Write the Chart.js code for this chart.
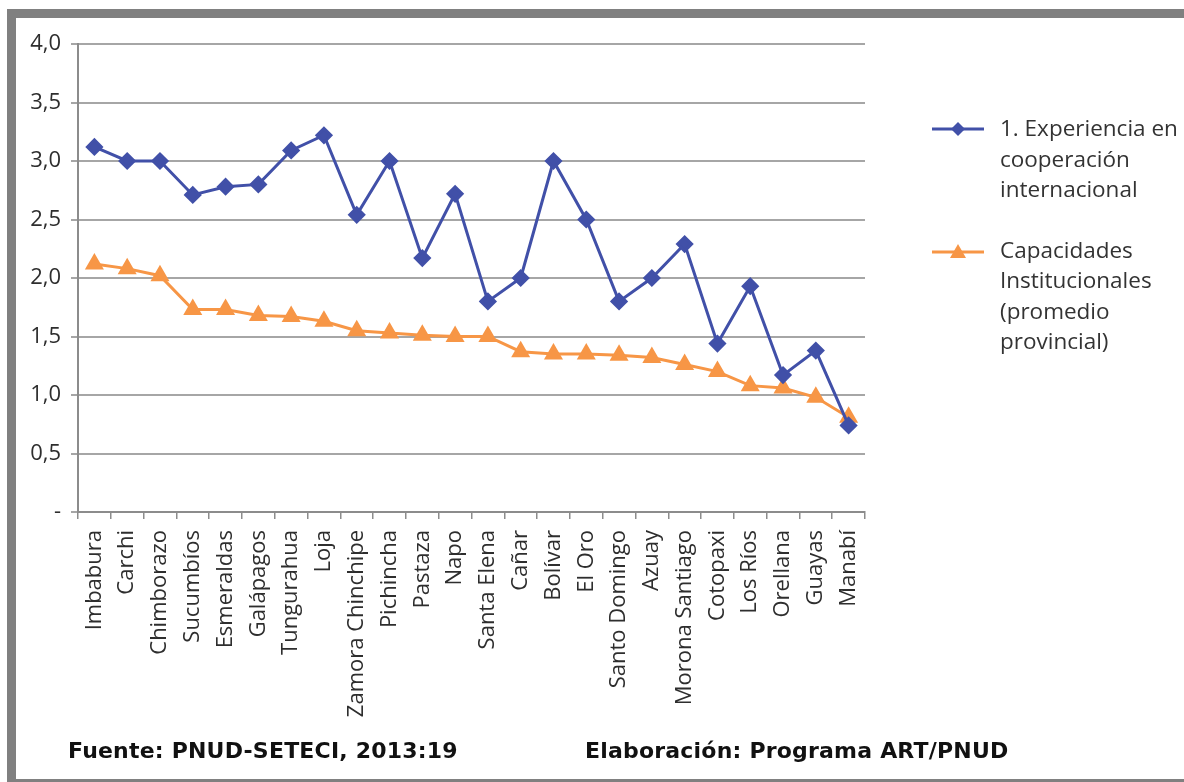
<!DOCTYPE html>
<html>
<head>
<meta charset="utf-8">
<script src="https://cdn.jsdelivr.net/npm/chart.js@4.4.1/dist/chart.umd.min.js"></script>
<style>
	html, body { margin: 0; padding: 0; background: #fff; overflow: hidden; }
	body { width: 1184px; height: 782px; position: relative; font-family: "Open Sans", sans-serif; }
	#frame { position: absolute; left: 7px; top: 9px; width: 1190px; height: 761px; border: 9px solid #808080; }
	#wrap { position: absolute; left: 0; top: 0; width: 1184px; height: 782px; }
	#legend { position: absolute; left: 930px; top: 113px; color: #333; font-size: 22.5px; line-height: 30.5px; }
	.item { position: relative; padding-left: 70px; margin-bottom: 30px; }
	.item svg { position: absolute; left: 0; top: 6px; }
	.foot { position: absolute; top: 738px; font-family: "DejaVu Sans", sans-serif; font-weight: bold; font-size: 22px; color: #111; letter-spacing: 0.2px; }
</style>
</head>
<body>
<div id="frame"></div>
<div id="wrap"><canvas id="mycanvas" width="1184" height="782"></canvas></div>
<div id="legend">
	<div class="item">
		<svg width="56" height="20"><line x1="2" y1="10" x2="54" y2="10" stroke="#4150a8" stroke-width="3"/><polygon points="28,3 35,10 28,17 21,10" fill="#4150a8"/></svg>
		1. Experiencia en<br>cooperación<br>internacional
	</div>
	<div class="item">
		<svg width="56" height="20"><line x1="2" y1="11" x2="54" y2="11" stroke="#f79646" stroke-width="3"/><polygon points="28,3 36,17 20,17" fill="#f79646"/></svg>
		Capacidades<br>Institucionales<br>(promedio<br>provincial)
	</div>
</div>
<div class="foot" style="left:68px">Fuente: PNUD-SETECI, 2013:19</div>
<div class="foot" style="left:585px">Elaboración: Programa ART/PNUD</div>
<script>
var provincias = ["Imbabura", "Carchi", "Chimborazo", "Sucumbíos", "Esmeraldas", "Galápagos", "Tungurahua", "Loja",
	"Zamora Chinchipe", "Pichincha", "Pastaza", "Napo", "Santa Elena", "Cañar", "Bolívar", "El Oro", "Santo Domingo",
	"Azuay", "Morona Santiago", "Cotopaxi", "Los Ríos", "Orellana", "Guayas", "Manabí"];

var experiencia = [3.12, 3.0, 3.0, 2.71, 2.78, 2.8, 3.09, 3.22, 2.54, 3.0, 2.17, 2.72, 1.8, 2.0, 3.0, 2.5, 1.8,
	2.0, 2.29, 1.44, 1.93, 1.17, 1.38, 0.74];

var capacidades = [2.12, 2.08, 2.02, 1.73, 1.73, 1.68, 1.67, 1.63, 1.55, 1.53, 1.51, 1.5, 1.5, 1.37, 1.35, 1.35, 1.34,
	1.32, 1.26, 1.2, 1.08, 1.06, 0.98, 0.81];

var yMin = 0, yMax = 4, yStep = 0.5;

var ctx = document.getElementById("mycanvas");
var lineChart = new Chart(ctx, {
	type: 'line',
	data: {
		labels: provincias,
		datasets: [
			{
				label: '1. Experiencia en cooperación internacional',
				data: experiencia,
				borderColor: '#4150a8',
				backgroundColor: '#4150a8',
				borderWidth: 3,
				pointStyle: 'rectRot',
				pointRadius: 7,
				tension: 0
			},
			{
				label: 'Capacidades Institucionales (promedio provincial)',
				data: capacidades,
				borderColor: '#f79646',
				backgroundColor: '#f79646',
				borderWidth: 3,
				pointStyle: 'triangle',
				pointRadius: 8,
				tension: 0
			}
		]
	},
	options: {
		responsive: false,
		animation: false,
		layout: { padding: { top: 44, right: 319, bottom: 50, left: 0 } },
		plugins: { legend: { display: false }, tooltip: { enabled: false } },
		scales: {
			x: {
				offset: true,
				grid: { drawOnChartArea: false, color: '#8c8c8c', lineWidth: 1.5, tickLength: 7, offset: true },
				border: { color: '#8c8c8c', width: 2 },
				ticks: {
					color: '#2e2e2e',
					font: { family: 'Open Sans', size: 22 },
					maxRotation: 90, minRotation: 90,
					autoSkip: false, padding: 11
				},
				afterFit: function(scale) { scale.height = 220; }
			},
			y: {
				min: yMin, max: yMax,
				grid: { color: '#a6a6a6', lineWidth: 2, tickLength: 7 },
				border: { color: '#8c8c8c', width: 2 },
				ticks: {
					stepSize: yStep,
					color: '#2e2e2e',
					font: { family: 'Open Sans', size: 22 },
					padding: 10,
					callback: function(v) { return v === 0 ? '-' : v.toFixed(1).replace('.', ','); }
				},
				afterFit: function(scale) { scale.width = 78; }
			}
		}
	}
});
</script>
</body>
</html>
